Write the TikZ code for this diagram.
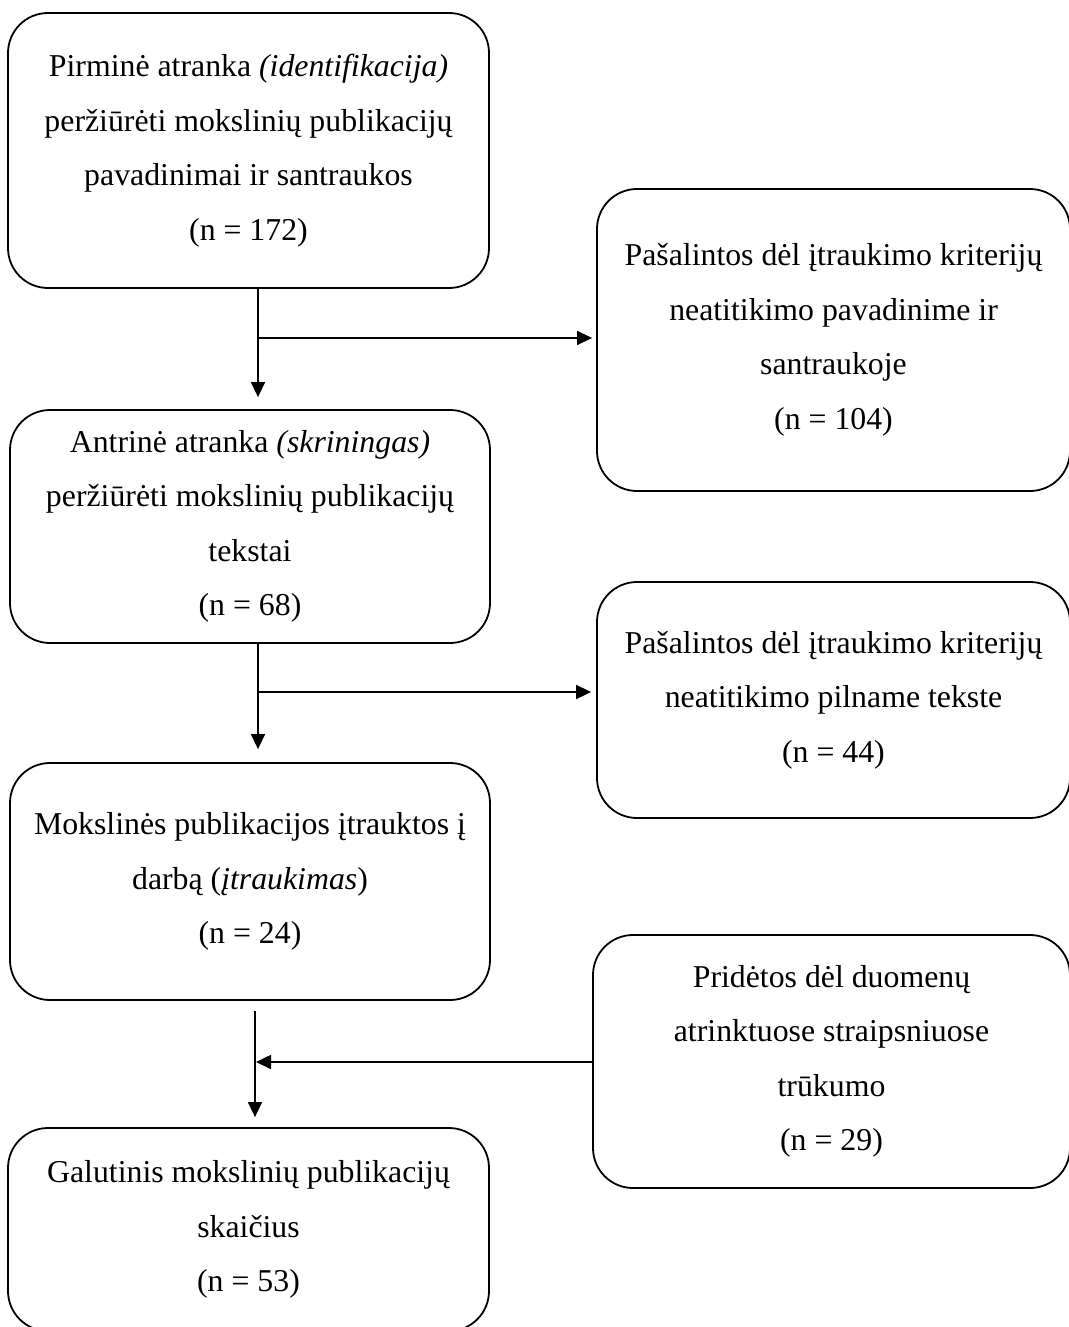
\documentclass[tikz,border=0pt]{standalone}
\usepackage{fontspec}
\setmainfont{Liberation Serif}
\usetikzlibrary{arrows.meta}
\begin{document}
\begin{tikzpicture}[x=1pt,y=-1pt,
  flowbox/.style={draw, line width=1.8pt, rounded corners=40pt, align=center,
    inner sep=0pt, font=\fontsize{31.8}{54.5}\selectfont},
  arr/.style={line width=1.6pt, -{Triangle[length=15pt,width=14pt]}}]
\useasboundingbox (0,0) rectangle (1068,1327);
% left column: the selection steps
\node[flowbox, minimum width=481pt, minimum height=275pt] (B1) at (248.5,150.5)
  {Pirminė atranka \textit{(identifikacija)}\\ peržiūrėti mokslinių publikacijų\\ pavadinimai ir santraukos\\ (n = 172)};
\node[flowbox, minimum width=480pt, minimum height=233pt] (B2) at (250,526.5)
  {Antrinė atranka \textit{(skriningas)}\\ peržiūrėti mokslinių publikacijų\\ tekstai\\ (n = 68)};
\node[flowbox, minimum width=480pt, minimum height=237pt] (B3) at (250,881.5)
  {Mokslinės publikacijos įtrauktos į\\ darbą (\textit{įtraukimas})\\ (n = 24)};
\node[flowbox, minimum width=481pt, minimum height=203pt] (B4) at (248.5,1229.5)
  {Galutinis mokslinių publikacijų\\ skaičius\\ (n = 53)};
% right column: removed and added publications
\node[flowbox, minimum width=473pt, minimum height=302pt] (R1) at (833.5,340)
  {Pašalintos dėl įtraukimo kriterijų\\ neatitikimo pavadinime ir\\ santraukoje\\ (n = 104)};
\node[flowbox, minimum width=473pt, minimum height=236pt] (R2) at (833.5,700)
  {Pašalintos dėl įtraukimo kriterijų\\ neatitikimo pilname tekste\\ (n = 44)};
\node[flowbox, minimum width=477pt, minimum height=253pt] (R3) at (831.5,1061.5)
  {Pridėtos dėl duomenų\\ atrinktuose straipsniuose\\ trūkumo\\ (n = 29)};
% junction points on the vertical connectors
\coordinate (j1) at (258,338);
\coordinate (j2) at (258,692);
\coordinate (s3) at (255,1011);
\coordinate (j3) at (255,1062);
% connectors
\draw[arr, shorten >=12pt] (B1.south -| j1) -- (B2.north -| j1);
\draw[arr, shorten >=4pt] (j1) -- (R1.west |- j1);
\draw[arr, shorten >=13pt] (B2.south -| j2) -- (B3.north -| j2);
\draw[arr, shorten >=5pt] (j2) -- (R2.west |- j2);
\draw[arr, shorten >=10pt] (s3) -- (B4.north -| s3);
\draw[arr, shorten >=1pt] (R3.west |- j3) -- (j3);
\end{tikzpicture}
\end{document}
